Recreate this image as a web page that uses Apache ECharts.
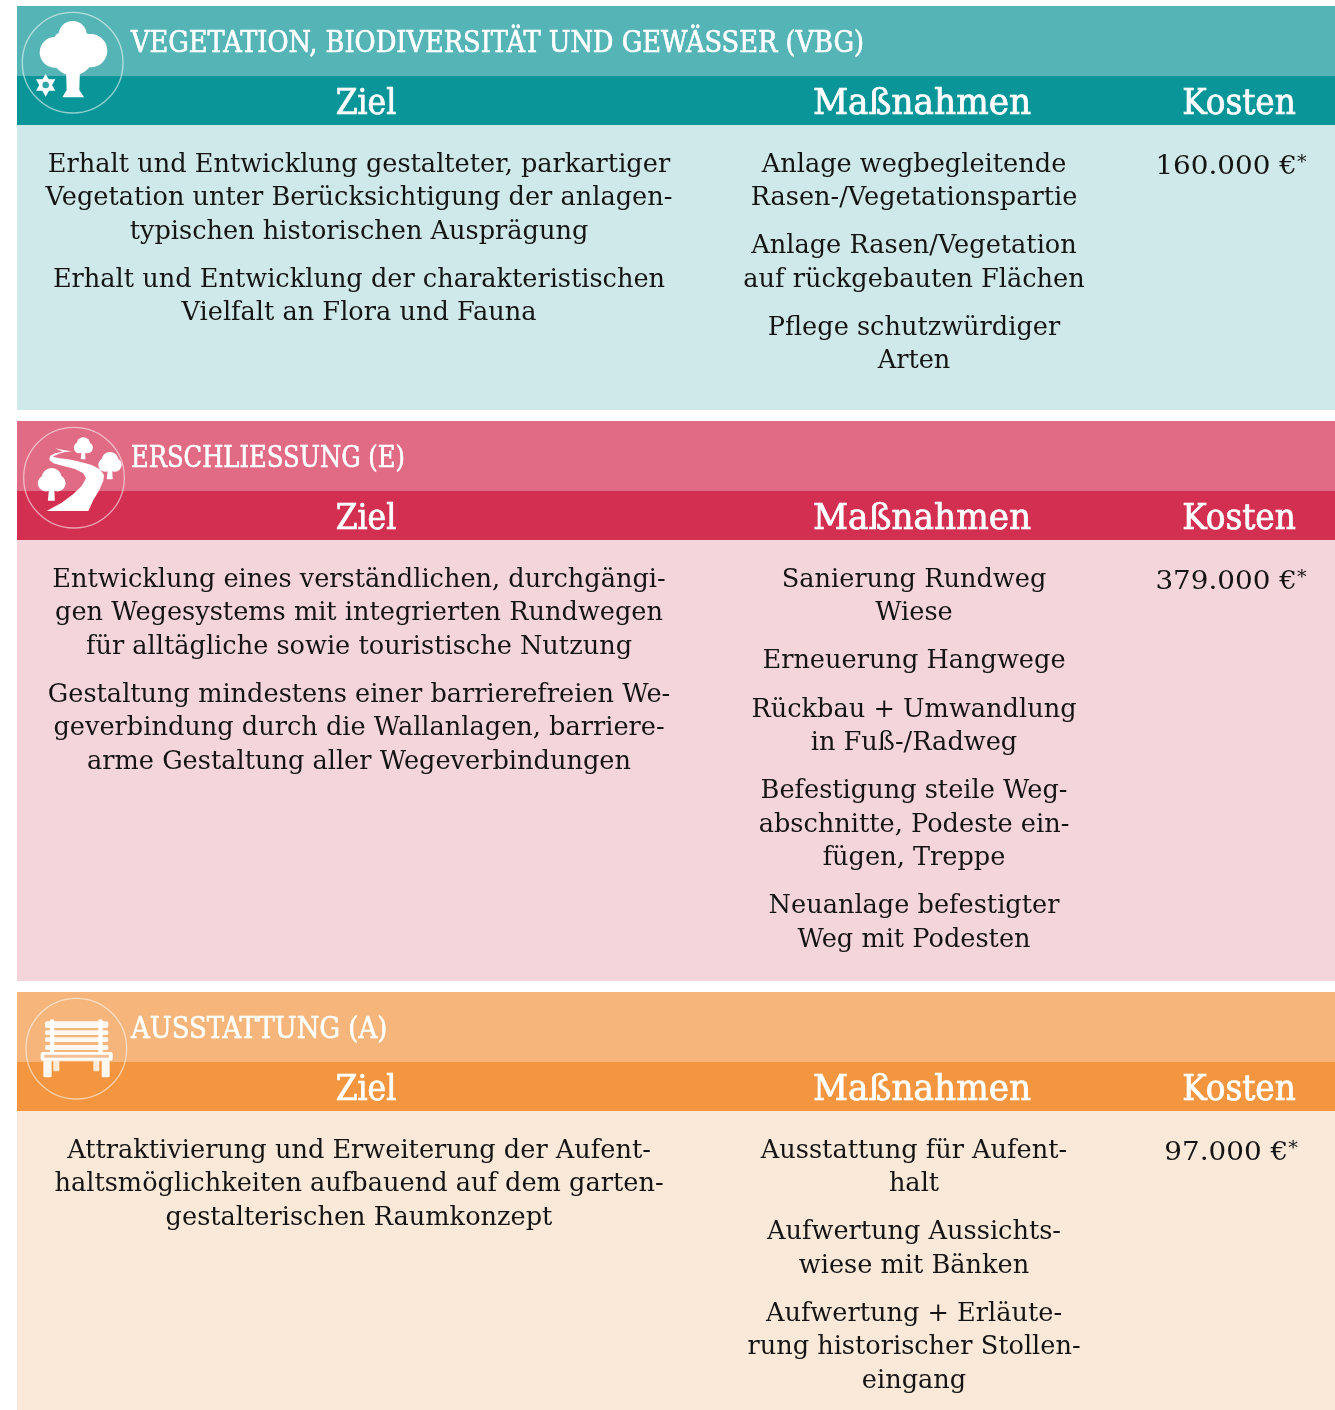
<!DOCTYPE html>
<html><head><meta charset="utf-8"><style>html,body{margin:0;padding:0;background:#fff}#c{width:1335px;height:1410px}</style>
<script src="https://cdn.jsdelivr.net/npm/echarts@6/dist/echarts.min.js"></script></head>
<body><div id="c"></div>
<script>
const columnHeads = ['Ziel', 'Maßnahmen', 'Kosten'];
const titles = ['VEGETATION, BIODIVERSITÄT UND GEWÄSSER (VBG)', 'ERSCHLIESSUNG (E)', 'AUSSTATTUNG (A)'];
const costs = ['160.000 €', '379.000 €', '97.000 €'];
const goals = [
  [['Erhalt und Entwicklung gestalteter, parkartiger','Vegetation unter Berücksichtigung der anlagen-','typischen historischen Ausprägung'],
   ['Erhalt und Entwicklung der charakteristischen','Vielfalt an Flora und Fauna']],
  [['Entwicklung eines verständlichen, durchgängi-','gen Wegesystems mit integrierten Rundwegen','für alltägliche sowie touristische Nutzung'],
   ['Gestaltung mindestens einer barrierefreien We-','geverbindung durch die Wallanlagen, barriere-','arme Gestaltung aller Wegeverbindungen']],
  [['Attraktivierung und Erweiterung der Aufent-','haltsmöglichkeiten aufbauend auf dem garten-','gestalterischen Raumkonzept']]
];
const measures = [
  [['Anlage wegbegleitende','Rasen-/Vegetationspartie'],['Anlage Rasen/Vegetation','auf rückgebauten Flächen'],['Pflege schutzwürdiger','Arten']],
  [['Sanierung Rundweg','Wiese'],['Erneuerung Hangwege'],['Rückbau + Umwandlung','in Fuß-/Radweg'],['Befestigung steile Weg-','abschnitte, Podeste ein-','fügen, Treppe'],['Neuanlage befestigter','Weg mit Podesten']],
  [['Ausstattung für Aufent-','halt'],['Aufwertung Aussichts-','wiese mit Bänken'],['Aufwertung + Erläute-','rung historischer Stollen-','eingang']]
];
const palettes = [
  {title:'#55b5b6', head:'#0a9699', body:'#cfe9ea'},
  {title:'#e16b84', head:'#d32f51', body:'#f5d5dc'},
  {title:'#f6b57b', head:'#f3963f', body:'#fae9d9'}
];
const panelTops = [6, 421, 992];
const panelBottoms = [410, 981, 1410];
const LEFT = 17, RIGHT = 1335, TITLE_H = 70, HEAD_H = 49;
const SERIF = '"DejaVu Serif",serif', COND = '"DejaVu Serif Condensed","DejaVu Serif",serif';
const BODY_SIZE = 26, BODY_SX = 0.985, HEAD_SIZE = 35, TITLE_SIZE = 29;
const X_GOAL = 359, X_MEAS = 914, X_COST = 1231, X_H = [366, 922, 1239];
const HEAD_SX = [1.0, 1.09, 1.04], TITLE_SX = [0.985, 0.93, 0.995];

function txt(s, x, y, o) {
  const st = {text:s, x:0, y:0, fill:o.fill||'#141414', font:o.size+'px '+(o.family||SERIF), textAlign:o.align||'center', textVerticalAlign:'middle'};
  if (o.bold) { st.stroke = o.fill; st.lineWidth = o.bold; }
  return {type:'text', x, y, scaleX:o.sx||1, silent:true, z:5, style:st};
}
function paragraphs(paras, x, top) {
  const out = []; let y = top + 40;
  paras.forEach(p => { p.forEach(l => { out.push(txt(l, x, y, {size:BODY_SIZE, sx:BODY_SX})); y += 33.4; }); y += 14.8; });
  return out;
}
const W = '#ffffff';
function gz(x, y, children) { return {type:'group', x, y, scaleX:1/3, scaleY:1/3, z:4, silent:true, children}; }
const c = (cx,cy,r,fill,op) => ({type:'circle', shape:{cx,cy,r}, style:{fill:fill||W, opacity:op==null?1:op}, z:4});
const r = (x,y,width,height,fill,op,rad) => ({type:'rect', shape:{x,y,width,height,r:rad||0}, style:{fill:fill||W, opacity:op==null?1:op}, z:4});
const pg = (points,fill) => ({type:'polygon', shape:{points}, style:{fill:fill||W}, z:4});
const ring = (cx,cy) => ({type:'circle', shape:{cx,cy,r:151}, style:{fill:'none', stroke:'rgba(255,255,255,0.55)', lineWidth:4}, z:6});
function miniTree(x,y,cr,tb){ return [c(x,y-cr*.2,cr*.8), c(x-cr*.45,y+cr*.2,cr*.65), c(x+cr*.45,y+cr*.2,cr*.65), pg([[x-cr*.2,y+cr*.5],[x+cr*.2,y+cr*.5],[x+cr*.25,tb],[x-cr*.3,tb]])]; }
const roadPts = [[140,303],[265,303],[280,270],[298,240],[310,212],[312,195],[300,178],[275,165],[240,155],[205,148],[178,145],[158,140],[175,132],[195,126],[215,124],[190,120],[165,115],[188,125],[165,130],[150,138],[148,150],[160,160],[190,168],[225,177],[250,190],[258,205],[245,228],[220,252],[185,278]];
const icons = [
  gz(0,0,[ring(218,188),
    c(218,105,42),c(165,157,46),c(272,152,50),c(218,165,62),c(190,125,30),c(245,125,30),
    pg([[198,205],[240,205],[238,270],[252,292],[187,292],[200,270]]),
    pg([[137,222],[166,272],[108,272]]),pg([[137,290],[108,238],[166,238]]),c(137,255,10,'#2ea5a7')
  ]),
  gz(0,410,[ring(222,203),
    pg(roadPts),
    ...miniTree(250,108,26,148), ...miniTree(330,158,32,208), ...miniTree(155,212,38,272)
  ]),
  gz(0,980,[ring(229,206),
    r(150,118,13,105,W,1,5),r(295,118,13,105,W,1,5),
    r(135,124,190,20,W,.9,6),r(135,151,190,14,W,.9,5),r(135,172,190,14,W,.9,5),r(135,195,190,15,W,.9,5),
    r(122,216,216,26,W,1,6),r(133,224,194,9,'#f0b07c',.8),
    r(130,242,25,50,W,.92,4),r(160,242,18,32,W,.8,3),r(280,242,18,32,W,.8,3),r(305,242,24,50,W,.92,4)
  ])
];
const elements = [];
palettes.forEach((p,i) => {
  const t = panelTops[i], w = RIGHT-LEFT;
  elements.push({type:'rect', silent:true, z:1, shape:{x:LEFT,y:t,width:w,height:TITLE_H}, style:{fill:p.title}});
  elements.push({type:'rect', silent:true, z:1, shape:{x:LEFT,y:t+TITLE_H,width:w,height:HEAD_H}, style:{fill:p.head}});
  elements.push({type:'rect', silent:true, z:1, shape:{x:LEFT,y:t+TITLE_H+HEAD_H,width:w,height:panelBottoms[i]-t-TITLE_H-HEAD_H}, style:{fill:p.body}});
  elements.push(txt(titles[i], 131, t+38, {size:TITLE_SIZE, fill:W, align:'left', sx:TITLE_SX[i], family:COND, bold:.6}));
  columnHeads.forEach((h,k) => elements.push(txt(h, X_H[k], t+TITLE_H+29, {size:HEAD_SIZE, fill:W, sx:HEAD_SX[k], family:COND, bold:.7})));
  const top = t+TITLE_H+HEAD_H;
  elements.push(...paragraphs(goals[i], X_GOAL, top));
  elements.push(...paragraphs(measures[i], X_MEAS, top));
  elements.push({type:'text', x:X_COST, y:top+42, scaleX:1.07, silent:true, z:5, style:{
    text:'{v|'+costs[i]+'}{s|*}', x:0, y:0, textAlign:'center', textVerticalAlign:'middle', fill:'#141414',
    rich:{v:{fontFamily:SERIF, fontSize:BODY_SIZE, fill:'#141414'}, s:{fontFamily:SERIF, fontSize:18, verticalAlign:'top', fill:'#141414'}}}});
  elements.push(icons[i]);
});
const chart = echarts.init(document.getElementById('c'), null, {renderer:'canvas', width:1335, height:1410});
chart.setOption({animation:false, backgroundColor:'#ffffff', graphic:{elements}});
</script></body></html>
